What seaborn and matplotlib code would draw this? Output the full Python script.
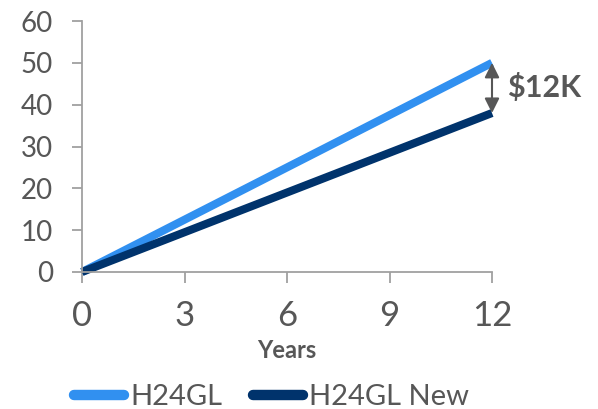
import matplotlib
matplotlib.use("Agg")
import matplotlib.pyplot as plt
from matplotlib.lines import Line2D
import seaborn as sns
import pandas as pd

# Cumulative value (thousand $) over the holding period
years = [0, 12]
h24gl = [0, 50]
h24gl_new = [0, 38]
series_names = ["H24GL", "H24GL New"]
x_ticks = [0, 3, 6, 9, 12]
y_ticks = [0, 10, 20, 30, 40, 50, 60]
gap_label = "$12K"

light_blue = "#3190F0"
navy = "#00336C"
text_gray = "#575757"
axis_gray = "#A0A0A0"

df = pd.DataFrame({
    "Years": years * 2,
    "Value": h24gl + h24gl_new,
    "Series": [series_names[0]] * len(years) + [series_names[1]] * len(years),
})

sns.set_theme(style="white")
plt.rcParams["font.family"] = ["Lato", "DejaVu Sans"]

fig = plt.figure(figsize=(5.98, 4.09), dpi=100)
ax = fig.add_axes([82 / 598, 1 - 272 / 409, 410 / 598, 251 / 409])

sns.lineplot(data=df, x="Years", y="Value", hue="Series",
             palette=[light_blue, navy], linewidth=5.8, legend=False, ax=ax)
for ln in ax.lines:
    ln.set_clip_on(False)
    ln.set_solid_capstyle("butt")

ax.set_xlim(0, 12)
ax.set_ylim(0, 60)
ax.set_xticks(x_ticks)
ax.set_yticks(y_ticks)
ax.set_ylabel("")
ax.set_xlabel("Years", fontsize=17, fontweight="bold", color=text_gray, labelpad=5)

for side in ["top", "right"]:
    ax.spines[side].set_visible(False)
for side in ["left", "bottom"]:
    ax.spines[side].set_color(axis_gray)
    ax.spines[side].set_linewidth(1.3)

ax.tick_params(axis="x", length=8, width=1.3, color=axis_gray, labelsize=25,
               labelcolor=text_gray, pad=12, direction="out", bottom=True)
ax.tick_params(axis="y", length=7, width=1.3, color=axis_gray, labelsize=20,
               labelcolor=text_gray, pad=14, direction="out", left=True)

# Gap arrow between the two series at the final year
ax.annotate("", xy=(years[-1], h24gl[-1]), xytext=(years[-1], h24gl_new[-1]),
            arrowprops=dict(arrowstyle="<|-|>", color=text_gray, lw=1.5,
                            mutation_scale=22, shrinkA=0, shrinkB=0),
            annotation_clip=False)
ax.text(years[-1] + 0.45, (h24gl[-1] + h24gl_new[-1]) / 2, gap_label,
        fontsize=22, fontweight="bold", color=text_gray, va="center", ha="left",
        clip_on=False)

handles = [Line2D([0], [0], color=c, lw=7.5, solid_capstyle="round")
           for c in [light_blue, navy]]
fig.legend(handles, series_names, loc="center left",
           bbox_to_anchor=(59 / 598, 1 - 397 / 409),
           ncol=2, frameon=False, fontsize=21, labelcolor=text_gray, borderpad=0,
           handlelength=1.72, handletextpad=0.22, columnspacing=1.05)

fig.savefig("out.png", dpi=100)
